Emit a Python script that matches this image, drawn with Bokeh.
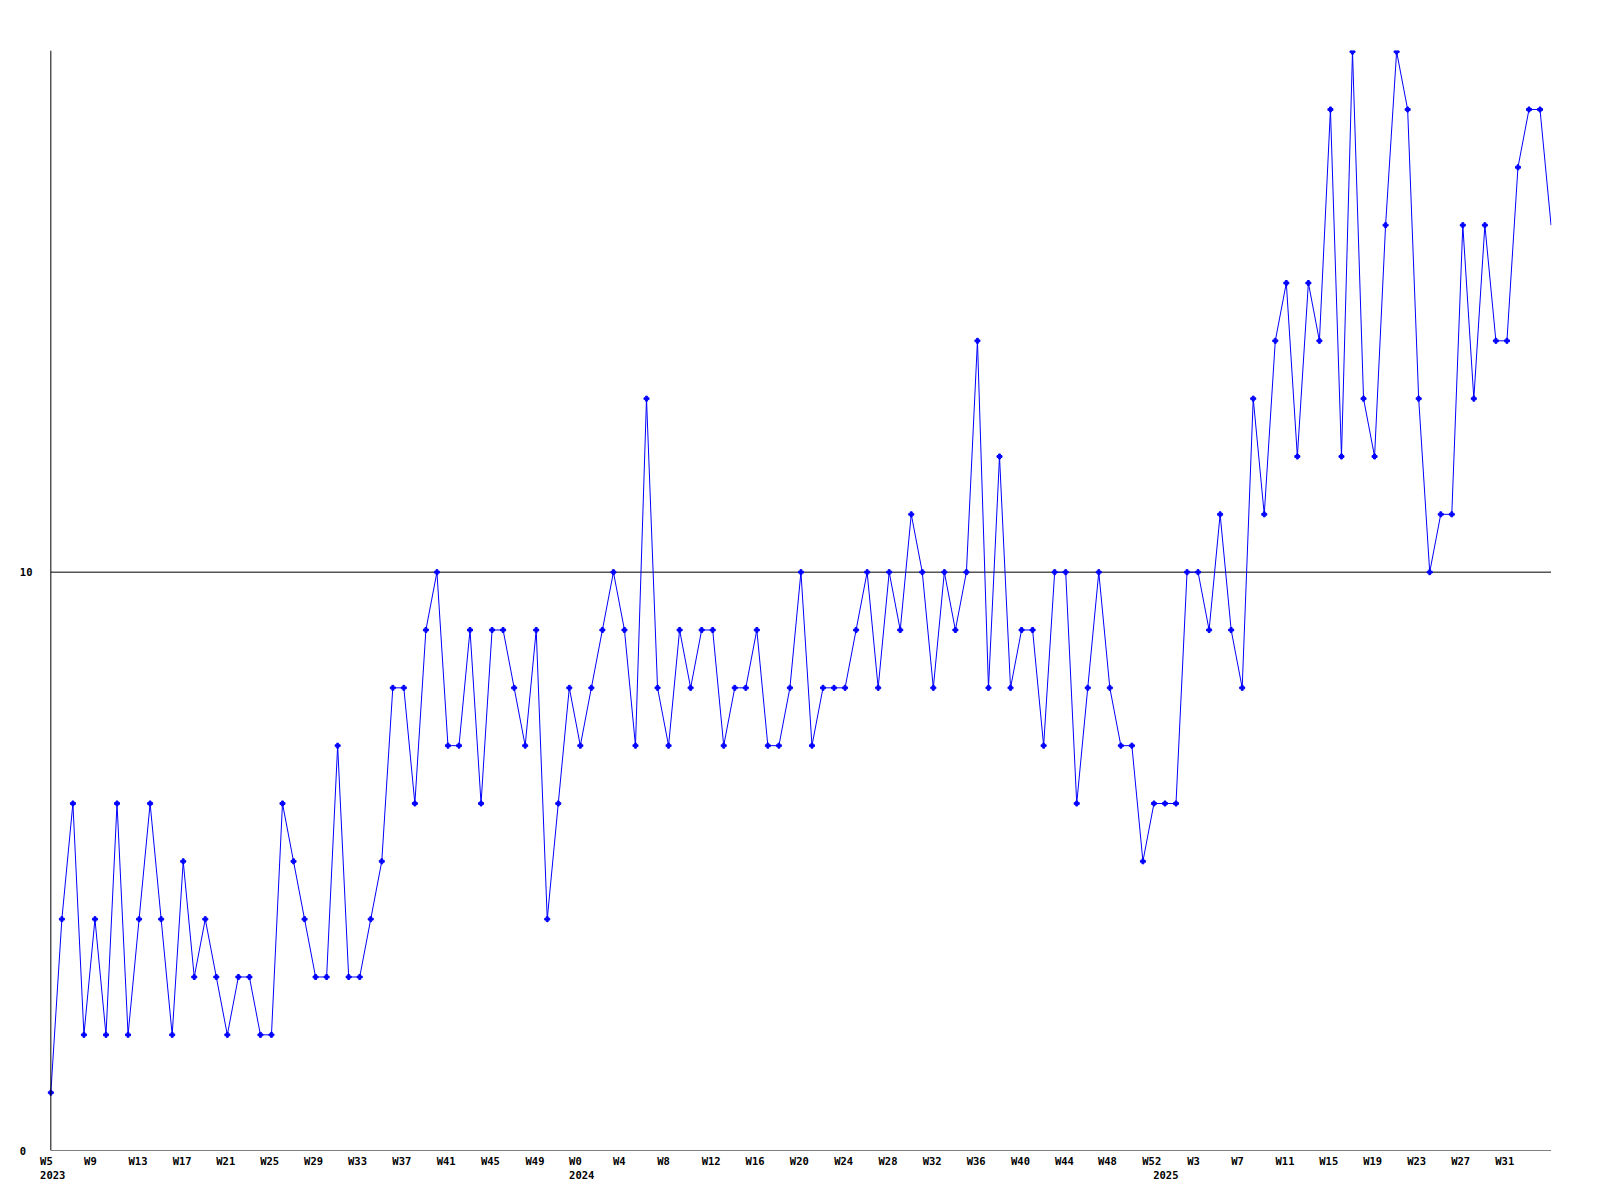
from bokeh.plotting import figure
from bokeh.models import Range1d, FixedTicker, Span, ColumnDataSource
from bokeh.embed import file_html
from bokeh.resources import INLINE

# weekly values, 2023 W5 .. 2025 W33
values = [
    1, 4, 6, 2, 4, 2, 6, 2, 4, 6,
    4, 2, 5, 3, 4, 3, 2, 3, 3, 2,
    2, 6, 5, 4, 3, 3, 7, 3, 3, 4,
    5, 8, 8, 6, 9, 10, 7, 7, 9, 6,
    9, 9, 8, 7, 9, 4, 6, 8, 7, 8,
    9, 10, 9, 7, 13, 8, 7, 9, 8, 9,
    9, 7, 8, 8, 9, 7, 7, 8, 10, 7,
    8, 8, 8, 9, 10, 8, 10, 9, 11, 10,
    8, 10, 9, 10, 14, 8, 12, 8, 9, 9,
    7, 10, 10, 6, 8, 10, 8, 7, 7, 5,
    6, 6, 6, 10, 10, 9, 11, 9, 8, 13,
    11, 14, 15, 12, 15, 14, 18, 12, 19, 13,
    12, 16, 19, 18, 13, 10, 11, 11, 16, 13,
    16, 14, 14, 17, 18, 18, 16,
]
index = list(range(len(values)))

week_labels = ["W5", "W9", "W13", "W17", "W21", "W25", "W29", "W33", "W37", "W41", "W45", "W49",
               "W0", "W4", "W8", "W12", "W16", "W20", "W24", "W28", "W32", "W36", "W40", "W44",
               "W48", "W52", "W3", "W7", "W11", "W15", "W19", "W23", "W27", "W31"]
week_label_pos = [0.17, 3.59, 7.90, 11.90, 15.86, 19.84, 23.82, 27.80, 31.82, 35.84, 39.85, 43.89,
                  48.13, 51.54, 55.55, 59.86, 63.84, 67.85, 71.87, 75.89, 79.89, 83.88, 87.90, 91.88,
                  95.78, 99.80, 103.59, 107.58, 111.88, 115.85, 119.83, 123.82, 127.81, 131.80]
year_labels = ["2023", "2024", "2025"]
year_label_pos = [0.17, 48.13, 101.08]

y_ticks = [0, 10]

FONT = "DejaVu Sans Mono"
BLUE = "#0000FF"
NBSP = "\u00a0"

p = figure(frame_width=1515, frame_height=1100,
           x_range=Range1d(-1.3, 136.04), y_range=Range1d(0, 19.02),
           output_backend="svg", toolbar_location=None,
           min_border_left=36, min_border_top=50, min_border_right=20, min_border_bottom=10)
p.outline_line_color = None
p.xgrid.visible = False
p.ygrid.visible = False
p.background_fill_color = "white"
p.border_fill_color = "white"

# tick labels: week on first line, year (left-aligned with the week) on the second
overrides = {}
for pos, lab in zip(week_label_pos, week_labels):
    overrides[pos] = lab
for pos, yr in zip(year_label_pos, year_labels):
    if pos in overrides:
        wk = overrides[pos]
        overrides[pos] = wk + NBSP * (len(yr) - len(wk)) + "\n" + yr
    else:
        overrides[pos] = NBSP * len(yr) + "\n" + yr
all_ticks = sorted(overrides.keys())

xa = p.xaxis[0]
xa.ticker = FixedTicker(ticks=all_ticks)
xa.major_label_overrides = overrides
xa.axis_line_color = None
xa.major_tick_line_color = None
xa.minor_tick_line_color = None
xa.major_label_standoff = -2
xa.major_label_text_font = FONT
xa.major_label_text_font_style = "bold"
xa.major_label_text_font_size = "10.5px"
xa.major_label_text_color = "black"

# y labels left-aligned (pad to equal width)
ymax_len = max(len(str(t)) for t in y_ticks)
ya = p.yaxis[0]
ya.ticker = FixedTicker(ticks=y_ticks)
ya.major_label_overrides = {t: str(t) + NBSP * (ymax_len - len(str(t))) for t in y_ticks}
ya.axis_line_color = None
ya.major_tick_line_color = None
ya.minor_tick_line_color = None
ya.major_label_standoff = -2
ya.major_label_text_font = FONT
ya.major_label_text_font_style = "bold"
ya.major_label_text_font_size = "10.5px"
ya.major_label_text_color = "black"

# axis lines
p.add_layout(Span(location=index[0], dimension="height", line_color="black", line_width=1))
p.segment(x0=[index[0]] * len(y_ticks), x1=[index[-1]] * len(y_ticks), y0=y_ticks, y1=y_ticks,
          line_color="black", line_width=1)

src = ColumnDataSource(dict(x=index, y=values))
p.line("x", "y", source=src, line_color=BLUE, line_width=1)
msrc = ColumnDataSource(dict(x=index[:-1], y=values[:-1]))
p.scatter("x", "y", source=msrc, marker="plus", size=5, color=BLUE)

open("out.html", "w").write(file_html(p, INLINE))
